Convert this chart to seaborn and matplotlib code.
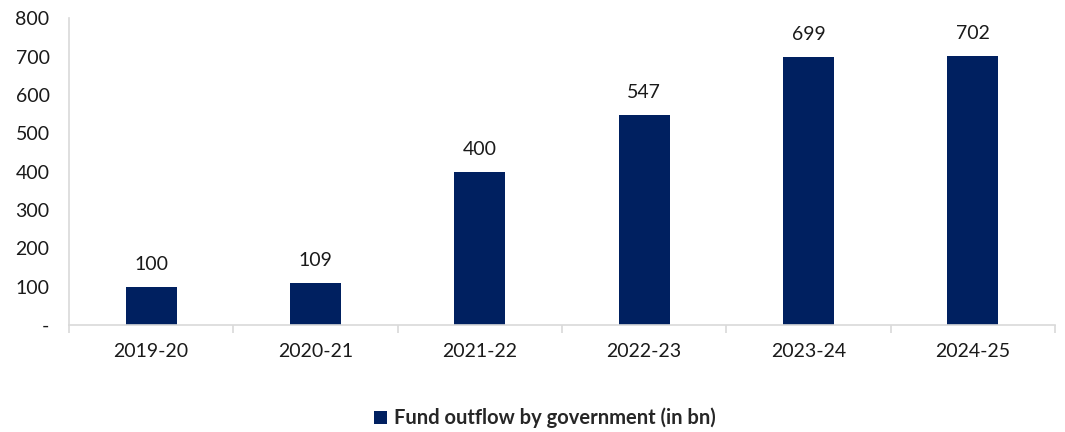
import matplotlib
matplotlib.use("Agg")
import matplotlib.pyplot as plt
import seaborn as sns
import pandas as pd
from matplotlib.patches import Patch

years = ["2019-20", "2020-21", "2021-22", "2022-23", "2023-24", "2024-25"]
outflow = [100, 109, 400, 547, 699, 702]
series_name = "Fund outflow by government (in bn)"

sns.set_theme(style="white")
plt.rcParams["font.family"] = ["Lato", "DejaVu Sans"]

df = pd.DataFrame({"year": years, "value": outflow})

fig = plt.figure(figsize=(10.65, 4.32), dpi=100)
ax = fig.add_axes([0.0648, 0.2477, 0.9258, 0.7103])

bar_color = "#002060"
sns.barplot(data=df, x="year", y="value", color=bar_color, width=0.31,
            saturation=1, ax=ax, edgecolor="none")

for i, v in enumerate(outflow):
    ax.annotate(f"{v}", (i, v), xytext=(0, 10), textcoords="offset points",
                ha="center", va="bottom", fontsize=14, color="#1a1a1a")

ax.set_ylim(0, 800)
ax.set_xlim(-0.5, len(years) - 0.5)
yt = list(range(0, 801, 100))
ax.set_yticks(yt)
ax.set_yticklabels(["-"] + [str(t) for t in yt[1:]], fontsize=14, color="#1a1a1a")
ax.tick_params(axis="y", length=0, pad=14)
ax.tick_params(axis="x", length=0, pad=13, labelsize=14, labelcolor="#1a1a1a")
ax.set_xlabel("")
ax.set_ylabel("")

for s in ["top", "right"]:
    ax.spines[s].set_visible(False)
for s in ["left", "bottom"]:
    ax.spines[s].set_color("#d9d9d9")
    ax.spines[s].set_linewidth(1.2)

# category separator ticks below the x axis
ax.set_xticks([i - 0.5 for i in range(len(years) + 1)], minor=True)
ax.tick_params(axis="x", which="minor", length=6, width=1.2, color="#d9d9d9",
               direction="out", bottom=True)

fig.legend(handles=[Patch(facecolor=bar_color, edgecolor="none")],
           labels=[series_name], loc="center", bbox_to_anchor=(0.512, 0.032),
           frameon=False, handlelength=0.65, handleheight=0.65, handletextpad=0.35,
           prop={"weight": "bold", "size": 14.5})

fig.savefig("out.png", dpi=100)
